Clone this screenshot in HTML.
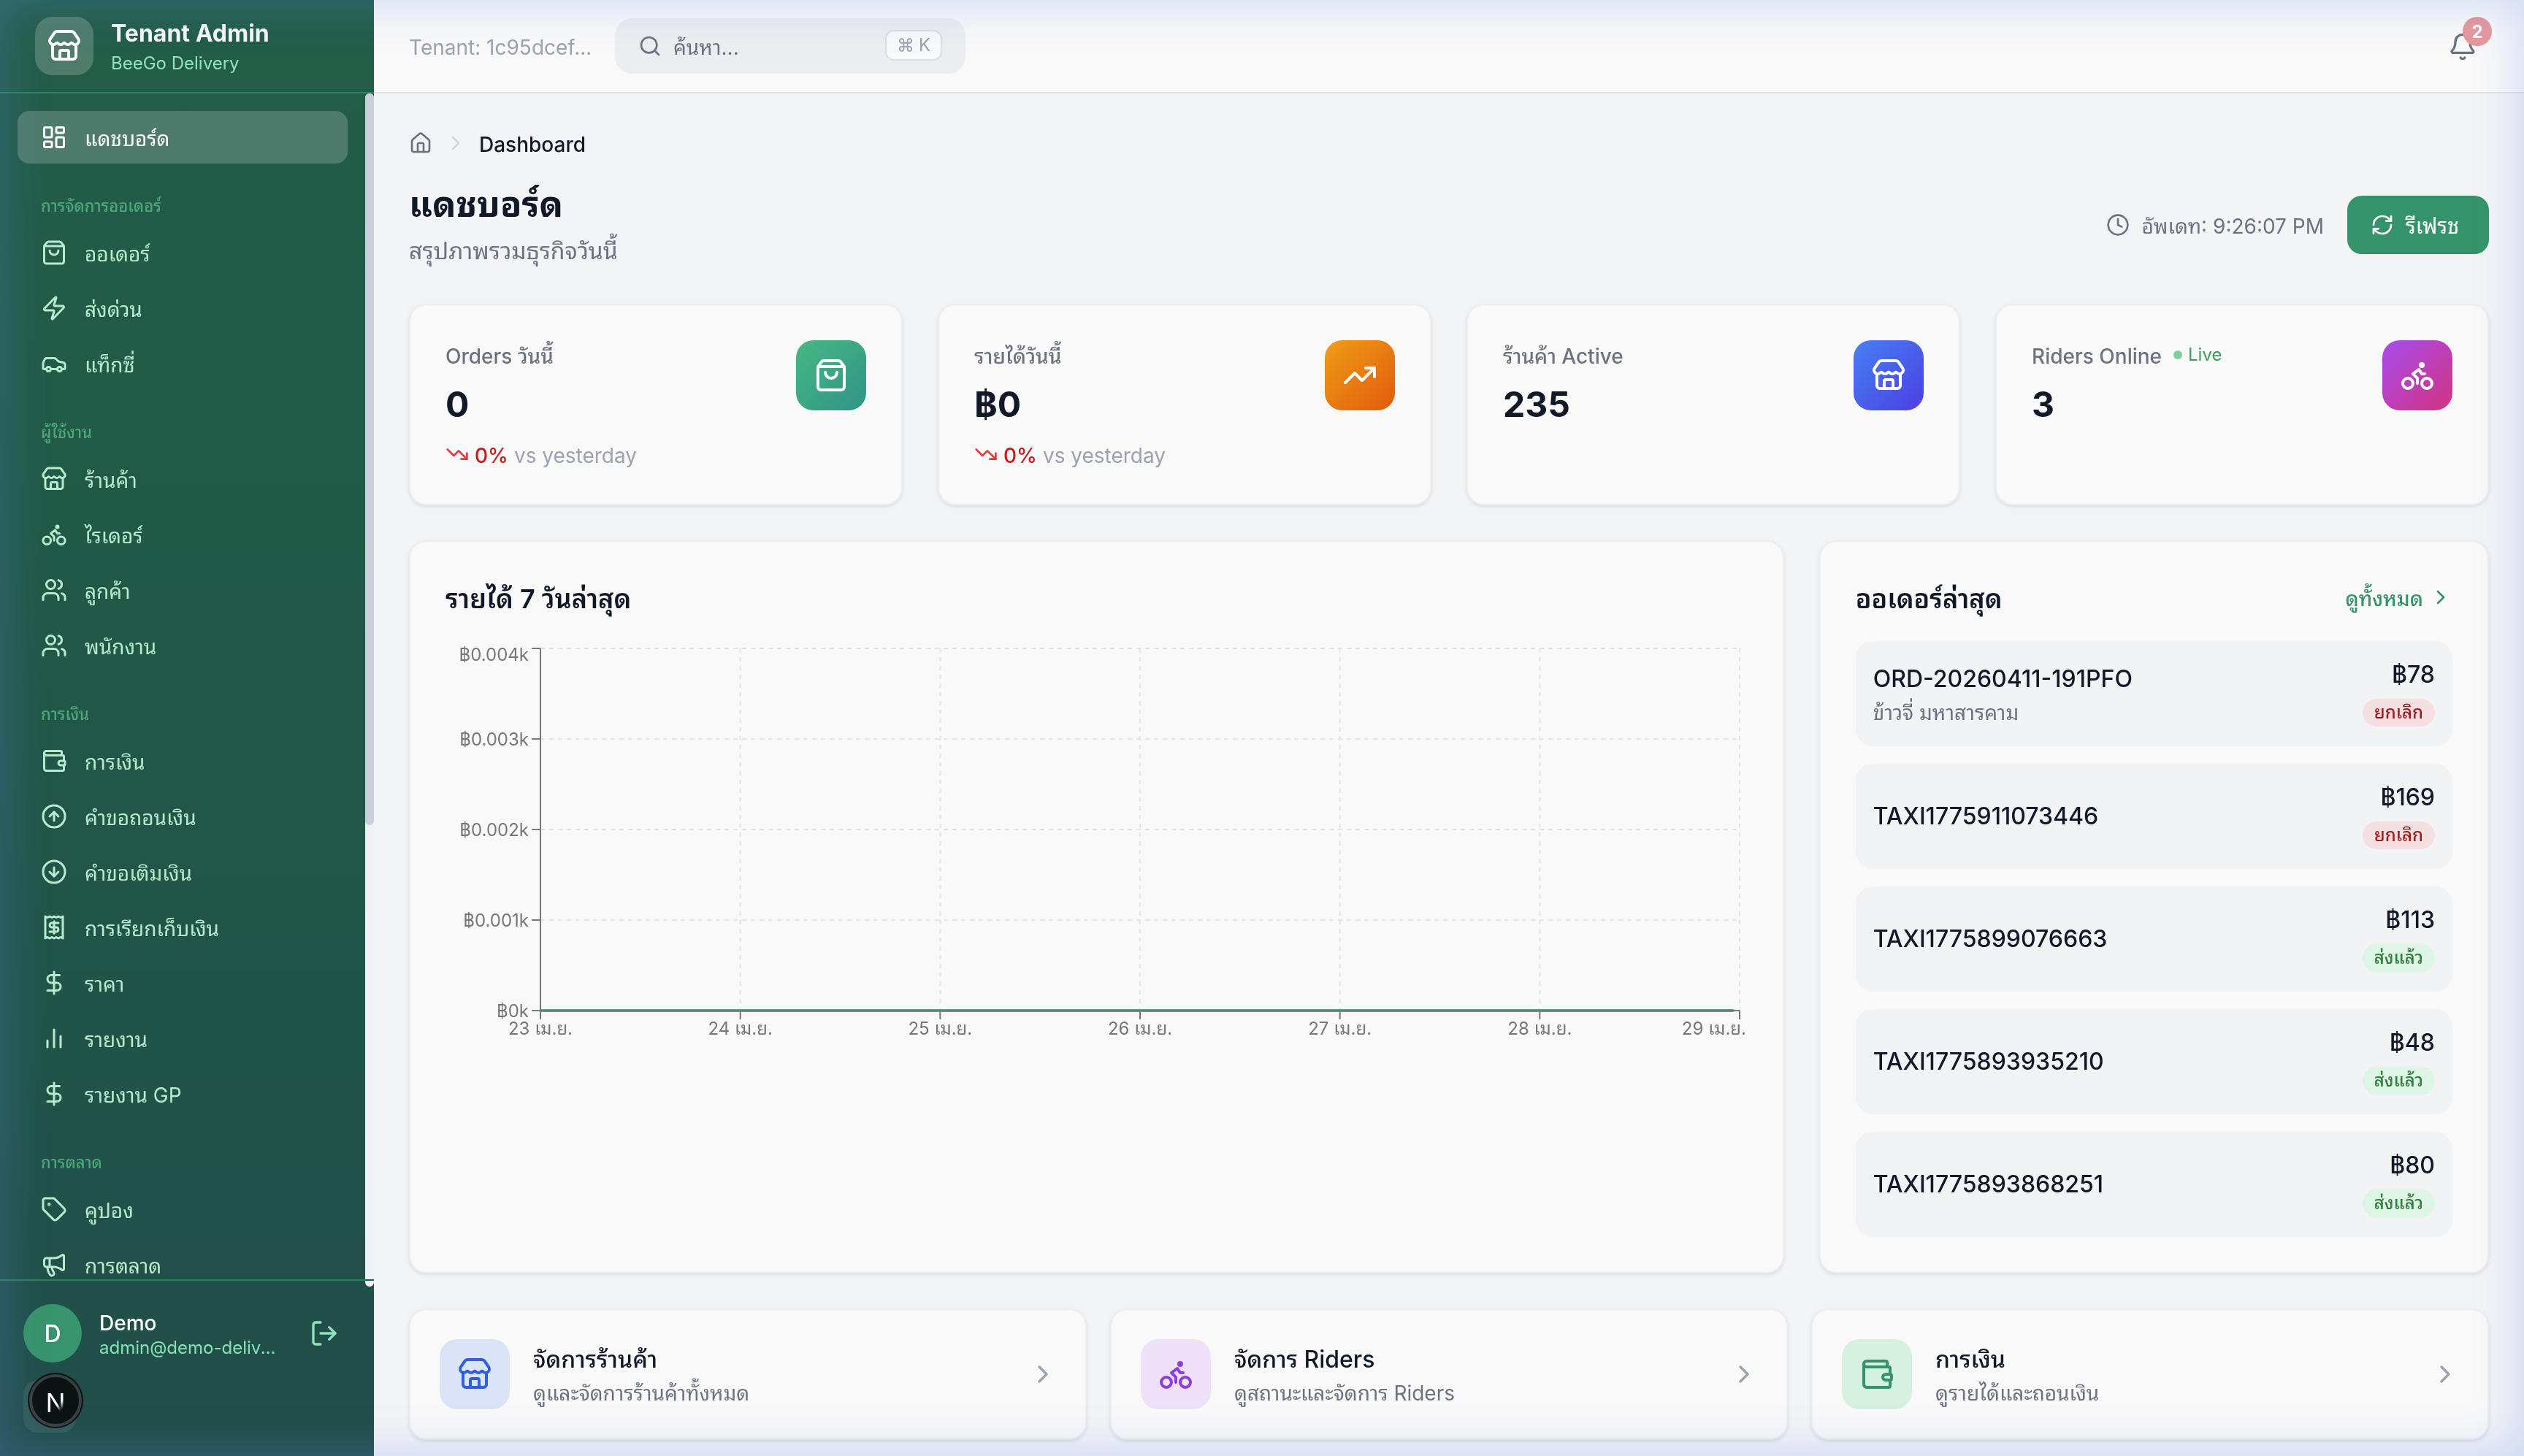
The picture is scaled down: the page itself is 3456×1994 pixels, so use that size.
<!DOCTYPE html>
<html lang="th">
<head>
<meta charset="utf-8">
<title>Tenant Admin - Dashboard</title>
<style>
*{box-sizing:border-box;margin:0;padding:0}
html,body{width:1728px;height:997px;overflow:hidden}
@media (min-width:2400px){html{zoom:2}}
body{font-family:"Inter","Liberation Sans","Noto Sans Thai Looped","Noto Sans Thai",sans-serif;background:#f3f4f6;color:#111827;position:relative;-webkit-font-smoothing:antialiased}
svg.i{display:block;fill:none;stroke:currentColor;stroke-width:2;stroke-linecap:round;stroke-linejoin:round;flex:none}

/* sidebar */
.sb{will-change:transform;position:absolute;left:0;top:0;width:256px;height:997px;background:linear-gradient(180deg,#235d48 0%,#215a47 30%,#215449 70%,#214e49 100%);color:#d9f9e6;overflow:hidden}
.sb-head{height:64px;border-bottom:1px solid #2f805b;display:flex;align-items:flex-start;padding:11.5px 24px 0;gap:12px}
.logo{width:40px;height:40px;border-radius:12px;background:rgba(255,255,255,.2);display:flex;align-items:center;justify-content:center;color:#fff}
.brand1{position:relative;top:-0.5px;font-size:16px;line-height:24px;font-weight:700;color:#f5f6f7}
.brand2{font-size:12px;line-height:16px;color:#8ee4ba}
.sb-nav{position:absolute;left:0;top:64px;width:256px;height:817px;overflow:hidden}
.sb-scroll{position:absolute;right:0;top:0;width:6px;height:817px;background:#eef1f5;border-radius:3px}
.sb-thumb{position:absolute;right:0;top:0;width:6px;height:501px;background:#c9d0dc;border-radius:3px}
.nav{padding:12px 18px 0 12px;height:812px;overflow:hidden}
.it{height:36px;display:flex;align-items:center;gap:12px;padding:0 16px;border-radius:8px;font-size:14px;line-height:20px;color:#b9eacd;margin-bottom:2px}
.it .t{position:relative;top:1px}
.it.act{background:rgba(255,255,255,.2);color:#fff}
.sec{font-size:11px;line-height:16px;font-weight:500;color:#55b685;opacity:.85;padding:0 16px;letter-spacing:0;height:16px}
.sb-foot{position:absolute;left:0;top:876px;width:256px;height:121px;border-top:1px solid #2f805b;padding:16px}
.user{display:flex;align-items:center;gap:12px;height:40px}
.av{width:40px;height:40px;border-radius:50%;background:#38946a;color:#fff;display:flex;align-items:center;justify-content:center;font-weight:500;font-size:16px}
.uname{position:relative;top:1px;font-size:14px;line-height:20px;font-weight:500;color:#fff}
.umail{font-size:12px;line-height:16px;color:#86e0b4;width:122px;white-space:nowrap;overflow:hidden;text-overflow:ellipsis}
.ghost{position:absolute;left:16px;top:68px;width:36px;height:36px;border-radius:10px;background:rgba(255,255,255,.08)}
.nx{position:absolute;left:20px;top:941px;width:36px;height:36px;border-radius:50%;background:#0b1212;border:2px solid #3c3f3f;display:flex;align-items:center;justify-content:center;box-shadow:0 0 0 1px #0b0f0f}
.nx span{font-size:18px;font-weight:400;line-height:18px;background:linear-gradient(140deg,#fff 0%,#fff 58%,rgba(255,255,255,0) 78%);-webkit-background-clip:text;background-clip:text;color:transparent;position:relative;top:1.5px}

/* main */
.main{will-change:transform;position:absolute;left:256px;top:0;width:1472px;height:997px}
.top{height:64px;border-bottom:1px solid #e3e5e8;background:#f9f9f9;display:flex;align-items:center;padding:0 24px}
.tenant{position:relative;top:1px;font-size:14px;line-height:20px;color:#9ca3af;width:141px}
.search{margin-top:-0.5px;line-height:20px;width:240px;height:38px;border-radius:12px;background:#ecedf0;display:flex;align-items:center;padding:0 16px;position:relative}
.search .ph{position:relative;top:1px;font-size:14px;color:#6b7280;margin-left:8px}
.kbd{position:absolute;right:16px;top:8px;width:39px;height:21px;border:1px solid #dcdee3;border-radius:6px;background:#f8f9fa;font-size:12px;color:#9ca3af;display:flex;align-items:center;justify-content:center;gap:3px}
.bell{position:absolute;right:32px;top:22px;color:#6b7280}
.badge{position:absolute;left:1430px;top:11.5px;width:20px;height:20px;border-radius:50%;background:#e6989a;color:#fff;font-size:12px;font-weight:700;display:flex;align-items:center;justify-content:center}

.content{padding:24px}
.crumb{display:flex;align-items:center;gap:8px;height:20px;font-size:14px;line-height:20px}
.crumb .home{color:#6b7280}
.crumb .chev{color:#d1d5db}
.crumb .cur{position:relative;top:1px;color:#111827;font-weight:500}
.hdr{margin-top:16px;height:60px;display:flex;align-items:center;justify-content:space-between}
.h1{font-size:24px;line-height:32px;font-weight:700;color:#111827}
.sub{font-size:16px;line-height:24px;color:#6b7280;margin-top:4px}
.hr{display:flex;align-items:center;gap:16px}
.upd{display:flex;align-items:center;gap:8px;font-size:14px;line-height:20px;color:#6b7280}
.btn{height:40px;width:97px;line-height:20px;display:flex;align-items:center;gap:8px;padding:0 16px;border-radius:10px;background:#35936a;color:#fff;font-size:14px;font-weight:500}

.card{background:#f9f9f9;border:1px solid #eceef1;border-radius:12px;box-shadow:0 1px 3px rgba(0,0,0,.08),0 1px 2px rgba(0,0,0,.04)}
.stats{margin-top:24px;display:grid;grid-template-columns:repeat(4,1fr);gap:24px}
.stat{height:138px;padding:24px;display:flex;justify-content:space-between;align-items:flex-start}
.slabel{position:relative;top:1px;font-size:14px;line-height:20px;font-weight:500;color:#6b7280;display:flex;align-items:center}
.sval{font-size:24px;line-height:32px;font-weight:700;color:#111827;margin-top:8px}
.trend{margin-top:8px;display:flex;align-items:center;gap:4px;font-size:14px;line-height:20px}
.trend span{position:relative;top:1px}
.trend .pc{color:#c81a1a;font-weight:500}
.trend .vs{color:#9ca3af}
.sicon{width:48px;height:48px;border-radius:12px;display:flex;align-items:center;justify-content:center;color:#fff}
.live{display:inline-flex;align-items:center;gap:4px;margin-left:8px;font-size:12px;color:#3ba056;font-weight:400;position:relative;top:-1px}
.live i{width:6px;height:6px;border-radius:50%;background:#7fd09a;display:block}

.row2{margin-top:24px;display:grid;grid-template-columns:941.33px 458.67px;gap:24px;height:502px}
.chart{padding:24px;position:relative}
.ctitle{position:relative;top:1px;font-size:18px;line-height:28px;font-weight:600;color:#111827}
.orders{padding:24px}
.ord:last-child{margin-bottom:0}
.ohead{display:flex;justify-content:space-between;align-items:center;height:28px;margin-bottom:16px}
.all{display:flex;align-items:center;gap:4px;font-size:14px;line-height:20px;color:#35936a;font-weight:500}
.ord{height:72px;border-radius:12px;background:#f2f3f5;padding:12px;display:flex;justify-content:space-between;align-items:center;margin-bottom:12px}
.oid{font-size:16px;line-height:24px;font-weight:500;color:#111827}
.oshop{position:relative;top:1px;font-size:14px;line-height:20px;color:#6b7280}
.oright{text-align:right;display:flex;flex-direction:column;align-items:flex-end}
.oprice{position:relative;top:-1.5px;font-size:16px;line-height:24px;font-weight:500;color:#111827}
.st{position:relative;top:-1px;margin-top:4px;height:19px;padding:0 8px;border-radius:999px;font-size:12px;line-height:19px;font-weight:500}
.st.cx{background:#f5dfe0;color:#9b1c1c}
.st.ok{background:#ddf5e3;color:#2f7d3f}

.links{margin-top:24px;display:grid;grid-template-columns:repeat(3,1fr);gap:16px}
.lk{height:90px;padding:19px 19px 19px 20px;display:flex;align-items:center;gap:16px}
.lic{width:48px;height:48px;border-radius:12px;display:flex;align-items:center;justify-content:center;flex:none}
.lt{font-size:16px;line-height:24px;font-weight:500;color:#111827}
.ls{position:relative;top:1px;font-size:14px;line-height:20px;color:#6b7280}
.lk .chev{margin-left:auto;color:#9ca3af}

.glow{position:absolute;left:0;top:0;width:1728px;height:997px;pointer-events:none;box-shadow:inset 0 0 30px 4px rgba(105,140,235,.27)}
</style>
</head>
<body>

<!-- SIDEBAR -->
<div class="sb">
  <div class="sb-head">
    <div class="logo"><svg class="i" width="24" height="24" viewBox="0 0 24 24"><path d="M15 21v-5a1 1 0 0 0-1-1h-4a1 1 0 0 0-1 1v5"/><path d="M17.774 10.31a1.12 1.12 0 0 0-1.549 0 2.5 2.5 0 0 1-3.451 0 1.12 1.12 0 0 0-1.548 0 2.5 2.5 0 0 1-3.452 0 1.12 1.12 0 0 0-1.549 0 2.5 2.5 0 0 1-3.77-3.248l2.889-4.184A2 2 0 0 1 7 2h10a2 2 0 0 1 1.653.873l2.895 4.192a2.5 2.5 0 0 1-3.774 3.244"/><path d="M4 10.95V19a2 2 0 0 0 2 2h12a2 2 0 0 0 2-2v-8.05"/></svg></div>
    <div><div class="brand1">Tenant Admin</div><div class="brand2">BeeGo Delivery</div></div>
  </div>
  <div class="sb-nav">
    <div class="nav">
      <div class="it act"><svg class="i" width="18" height="18" viewBox="0 0 24 24"><rect width="7" height="9" x="3" y="3" rx="1"/><rect width="7" height="5" x="14" y="3" rx="1"/><rect width="7" height="9" x="14" y="12" rx="1"/><rect width="7" height="5" x="3" y="16" rx="1"/></svg><span class="t">แดชบอร์ด</span></div>
      <div class="sec" style="margin-top:21px;margin-bottom:6px">การจัดการออเดอร์</div>
      <div class="it"><svg class="i" width="18" height="18" viewBox="0 0 24 24"><path d="M16 10a4 4 0 0 1-8 0"/><path d="M3.103 6.034h17.794"/><path d="M3.4 5.467a2 2 0 0 0-.4 1.2V20a2 2 0 0 0 2 2h14a2 2 0 0 0 2-2V6.667a2 2 0 0 0-.4-1.2l-2-2.667A2 2 0 0 0 17 2H7a2 2 0 0 0-1.6.8z"/></svg><span class="t">ออเดอร์</span></div>
      <div class="it"><svg class="i" width="18" height="18" viewBox="0 0 24 24"><path d="M4 14a1 1 0 0 1-.78-1.63l9.9-10.2a.5.5 0 0 1 .86.46l-1.92 6.02A1 1 0 0 0 13 10h7a1 1 0 0 1 .78 1.63l-9.9 10.2a.5.5 0 0 1-.86-.46l1.92-6.02A1 1 0 0 0 11 14z"/></svg><span class="t">ส่งด่วน</span></div>
      <div class="it"><svg class="i" width="18" height="18" viewBox="0 0 24 24"><path d="M19 17h2c.6 0 1-.4 1-1v-3c0-.9-.7-1.7-1.5-1.9C18.700 10.6 16 10 16 10s-1.3-1.4-2.2-2.3c-.5-.4-1.1-.7-1.8-.7H5c-.6 0-1.1.4-1.4.9l-1.4 2.9A3.7 3.7 0 0 0 2 12v4c0 .6.4 1 1 1h2"/><circle cx="7" cy="17" r="2"/><path d="M9 17h6"/><circle cx="17" cy="17" r="2"/></svg><span class="t">แท็กซี่</span></div>
      <div class="sec" style="margin-top:21px;margin-bottom:6px">ผู้ใช้งาน</div>
      <div class="it"><svg class="i" width="18" height="18" viewBox="0 0 24 24"><path d="M15 21v-5a1 1 0 0 0-1-1h-4a1 1 0 0 0-1 1v5"/><path d="M17.774 10.31a1.12 1.12 0 0 0-1.549 0 2.5 2.5 0 0 1-3.451 0 1.12 1.12 0 0 0-1.548 0 2.5 2.5 0 0 1-3.452 0 1.12 1.12 0 0 0-1.549 0 2.5 2.5 0 0 1-3.77-3.248l2.889-4.184A2 2 0 0 1 7 2h10a2 2 0 0 1 1.653.873l2.895 4.192a2.5 2.5 0 0 1-3.774 3.244"/><path d="M4 10.95V19a2 2 0 0 0 2 2h12a2 2 0 0 0 2-2v-8.050"/></svg><span class="t">ร้านค้า</span></div>
      <div class="it"><svg class="i" width="18" height="18" viewBox="0 0 24 24"><circle cx="18.5" cy="17.5" r="3.5"/><circle cx="5.5" cy="17.5" r="3.5"/><circle cx="15" cy="5" r="1"/><path d="M12 17.5V14l-3-3 4-3 2 3h2"/></svg><span class="t">ไรเดอร์</span></div>
      <div class="it"><svg class="i" width="18" height="18" viewBox="0 0 24 24"><path d="M16 21v-2a4 4 0 0 0-4-4H6a4 4 0 0 0-4 4v2"/><circle cx="9" cy="7" r="4"/><path d="M22 21v-2a4 4 0 0 0-3-3.870"/><path d="M16 3.13a4 4 0 0 1 0 7.75"/></svg><span class="t">ลูกค้า</span></div>
      <div class="it"><svg class="i" width="18" height="18" viewBox="0 0 24 24"><path d="M16 21v-2a4 4 0 0 0-4-4H6a4 4 0 0 0-4 4v2"/><circle cx="9" cy="7" r="4"/><path d="M22 21v-2a4 4 0 0 0-3-3.870"/><path d="M16 3.13a4 4 0 0 1 0 7.75"/></svg><span class="t">พนักงาน</span></div>
      <div class="sec" style="margin-top:21px;margin-bottom:6px">การเงิน</div>
      <div class="it"><svg class="i" width="18" height="18" viewBox="0 0 24 24"><path d="M19 7V4a1 1 0 0 0-1-1H5a2 2 0 0 0 0 4h15a1 1 0 0 1 1 1v4h-3a2 2 0 0 0 0 4h3a1 1 0 0 0 1-1v-2a1 1 0 0 0-1-1"/><path d="M3 5v14a2 2 0 0 0 2 2h15a1 1 0 0 0 1-1v-4"/></svg><span class="t">การเงิน</span></div>
      <div class="it"><svg class="i" width="18" height="18" viewBox="0 0 24 24"><circle cx="12" cy="12" r="10"/><path d="m16 12-4-4-4 4"/><path d="M12 16V8"/></svg><span class="t">คำขอถอนเงิน</span></div>
      <div class="it"><svg class="i" width="18" height="18" viewBox="0 0 24 24"><circle cx="12" cy="12" r="10"/><path d="M12 8v8"/><path d="m8 12 4 4 4-4"/></svg><span class="t">คำขอเติมเงิน</span></div>
      <div class="it"><svg class="i" width="18" height="18" viewBox="0 0 24 24"><path d="M4 2v20l2-1 2 1 2-1 2 1 2-1 2 1 2-1 2 1V2l-2 1-2-1-2 1-2-1-2 1-2-1-2 1Z"/><path d="M16 8h-6a2 2 0 1 0 0 4h4a2 2 0 1 1 0 4H8"/><path d="M12 17.5v-11"/></svg><span class="t">การเรียกเก็บเงิน</span></div>
      <div class="it"><svg class="i" width="18" height="18" viewBox="0 0 24 24"><line x1="12" x2="12" y1="2" y2="22"/><path d="M17 5H9.5a3.5 3.5 0 0 0 0 7h5a3.5 3.5 0 0 1 0 7H6"/></svg><span class="t">ราคา</span></div>
      <div class="it"><svg class="i" width="18" height="18" viewBox="0 0 24 24"><line x1="18" x2="18" y1="20" y2="10"/><line x1="12" x2="12" y1="20" y2="4"/><line x1="6" x2="6" y1="20" y2="14"/></svg><span class="t">รายงาน</span></div>
      <div class="it"><svg class="i" width="18" height="18" viewBox="0 0 24 24"><line x1="12" x2="12" y1="2" y2="22"/><path d="M17 5H9.5a3.5 3.5 0 0 0 0 7h5a3.5 3.5 0 0 1 0 7H6"/></svg><span class="t">รายงาน GP</span></div>
      <div class="sec" style="margin-top:21px;margin-bottom:6px">การตลาด</div>
      <div class="it"><svg class="i" width="18" height="18" viewBox="0 0 24 24"><path d="M12.586 2.586A2 2 0 0 0 11.172 2H4a2 2 0 0 0-2 2v7.172a2 2 0 0 0 .586 1.414l8.704 8.704a2.426 2.426 0 0 0 3.42 0l6.58-6.58a2.426 2.426 0 0 0 0-3.42z"/><circle cx="7.5" cy="7.5" r=".5" fill="currentColor"/></svg><span class="t">คูปอง</span></div>
      <div class="it"><svg class="i" width="18" height="18" viewBox="0 0 24 24"><path d="M11 6a13 13 0 0 0 8.4-2.8A1 1 0 0 1 21 4v12a1 1 0 0 1-1.6.8A13 13 0 0 0 11 14H5a2 2 0 0 1-2-2V8a2 2 0 0 1 2-2z"/><path d="M6 14a12 12 0 0 0 2.4 7.2 2 2 0 0 0 3.2-2.4A8 8 0 0 1 10 14"/><path d="M8 6v8"/></svg><span class="t">การตลาด</span></div>
    </div>
    <div class="sb-scroll"><div class="sb-thumb"></div></div>
  </div>
  <div class="sb-foot">
    <div class="user">
      <div class="av">D</div>
      <div><div class="uname">Demo</div><div class="umail">admin@demo-delivery.com</div></div>
      <svg class="i" style="margin-left:auto;margin-right:8px;color:#8ee4ba" width="20" height="20" viewBox="0 0 24 24"><path d="m16 17 5-5-5-5"/><path d="M21 12H9"/><path d="M9 21H5a2 2 0 0 1-2-2V5a2 2 0 0 1 2-2h4"/></svg>
    </div>
    <div class="ghost"></div>
  </div>
</div>
<div style="position:absolute;left:250px;top:876px;width:6px;height:1px;background:#0e6339"></div>
<div class="nx"><span>N</span></div>

<!-- MAIN -->
<div class="main">
  <div class="top">
    <div class="tenant">Tenant: 1c95dcef...</div>
    <div class="search">
      <svg class="i" style="color:#6b7280" width="16" height="16" viewBox="0 0 24 24"><circle cx="11" cy="11" r="8"/><path d="m21 21-4.3-4.3"/></svg>
      <span class="ph">ค้นหา...</span>
      <div class="kbd"><span>⌘</span><span>K</span></div>
    </div>
    <svg class="i bell" width="20" height="20" viewBox="0 0 24 24"><path d="M10.268 21a2 2 0 0 0 3.464 0"/><path d="M3.262 15.326A1 1 0 0 0 4 17h16a1 1 0 0 0 .74-1.673C19.41 13.956 18 12.499 18 8A6 6 0 0 0 6 8c0 4.499-1.411 5.956-2.738 7.326"/></svg>
    <div class="badge">2</div>
  </div>

  <div class="content">
    <div class="crumb">
      <svg class="i home" width="16" height="16" viewBox="0 0 24 24"><path d="M15 21v-8a1 1 0 0 0-1-1h-4a1 1 0 0 0-1 1v8"/><path d="M3 10a2 2 0 0 1 .709-1.528l7-5.999a2 2 0 0 1 2.582 0l7 5.999A2 2 0 0 1 21 10v9a2 2 0 0 1-2 2H5a2 2 0 0 1-2-2z"/></svg>
      <svg class="i chev" width="16" height="16" viewBox="0 0 24 24"><path d="m9 18 6-6-6-6"/></svg>
      <span class="cur">Dashboard</span>
    </div>
    <div class="hdr">
      <div><div class="h1">แดชบอร์ด</div><div class="sub">สรุปภาพรวมธุรกิจวันนี้</div></div>
      <div class="hr">
        <div class="upd"><svg class="i" width="16" height="16" viewBox="0 0 24 24"><circle cx="12" cy="12" r="10"/><path d="M12 6v6l4 2"/></svg><span style="position:relative;top:1px">อัพเดท: 9:26:07 PM</span></div>
        <div class="btn"><svg class="i" width="16" height="16" viewBox="0 0 24 24"><path d="M3 12a9 9 0 0 1 9-9 9.75 9.75 0 0 1 6.74 2.74L21 8"/><path d="M21 3v5h-5"/><path d="M21 12a9 9 0 0 1-9 9 9.75 9.75 0 0 1-6.74-2.74L3 16"/><path d="M8 16H3v5"/></svg><span style="position:relative;top:1px;font-weight:400;font-size:14.5px">รีเฟรช</span></div>
      </div>
    </div>

    <div class="stats">
      <div class="card stat">
        <div><div class="slabel">Orders วันนี้</div><div class="sval">0</div>
          <div class="trend"><svg class="i" style="color:#e3393c" width="16" height="16" viewBox="0 0 24 24"><path d="M16 17h6v-6"/><path d="m22 17-8.5-8.5-5 5L2 7"/></svg><span class="pc">0%</span><span class="vs">vs yesterday</span></div></div>
        <div class="sicon" style="background:linear-gradient(135deg,#48b783,#2f9488)"><svg class="i" width="24" height="24" viewBox="0 0 24 24"><path d="M16 10a4 4 0 0 1-8 0"/><path d="M3.103 6.034h17.794"/><path d="M3.4 5.467a2 2 0 0 0-.4 1.2V20a2 2 0 0 0 2 2h14a2 2 0 0 0 2-2V6.667a2 2 0 0 0-.4-1.2l-2-2.667A2 2 0 0 0 17 2H7a2 2 0 0 0-1.6.8z"/></svg></div>
      </div>
      <div class="card stat">
        <div><div class="slabel">รายได้วันนี้</div><div class="sval">฿0</div>
          <div class="trend"><svg class="i" style="color:#e3393c" width="16" height="16" viewBox="0 0 24 24"><path d="M16 17h6v-6"/><path d="m22 17-8.5-8.5-5 5L2 7"/></svg><span class="pc">0%</span><span class="vs">vs yesterday</span></div></div>
        <div class="sicon" style="background:linear-gradient(135deg,#ee9e14,#e25a0e)"><svg class="i" width="24" height="24" viewBox="0 0 24 24"><path d="M16 7h6v6"/><path d="m22 7-8.5 8.5-5-5L2 17"/></svg></div>
      </div>
      <div class="card stat">
        <div><div class="slabel">ร้านค้า Active</div><div class="sval">235</div></div>
        <div class="sicon" style="background:linear-gradient(135deg,#4680f2,#4c3fe3)"><svg class="i" width="24" height="24" viewBox="0 0 24 24"><path d="M15 21v-5a1 1 0 0 0-1-1h-4a1 1 0 0 0-1 1v5"/><path d="M17.774 10.31a1.12 1.12 0 0 0-1.549 0 2.5 2.5 0 0 1-3.451 0 1.12 1.12 0 0 0-1.548 0 2.5 2.5 0 0 1-3.452 0 1.12 1.12 0 0 0-1.549 0 2.5 2.5 0 0 1-3.77-3.248l2.889-4.184A2 2 0 0 1 7 2h10a2 2 0 0 1 1.653.873l2.895 4.192a2.5 2.5 0 0 1-3.774 3.244"/><path d="M4 10.95V19a2 2 0 0 0 2 2h12a2 2 0 0 0 2-2v-8.05"/></svg></div>
      </div>
      <div class="card stat">
        <div><div class="slabel">Riders Online<span class="live"><i></i>Live</span></div><div class="sval">3</div></div>
        <div class="sicon" style="background:linear-gradient(135deg,#a64ced,#d3337f)"><svg class="i" width="24" height="24" viewBox="0 0 24 24"><circle cx="18.5" cy="17.5" r="3.5"/><circle cx="5.5" cy="17.5" r="3.5"/><circle cx="15" cy="5" r="1"/><path d="M12 17.5V14l-3-3 4-3 2 3h2"/></svg></div>
      </div>
    </div>

    <div class="row2">
      <div class="card chart">
        <div class="ctitle">รายได้ 7 วันล่าสุด</div>
        <svg style="position:absolute;left:-1px;top:-1px" width="941" height="502" font-family="Inter, 'Liberation Sans', 'Noto Sans Thai Looped', sans-serif"><line x1="90" y1="74" x2="911" y2="74" stroke="#e4e5e7" stroke-dasharray="3 3" fill="none"/><line x1="90" y1="136" x2="911" y2="136" stroke="#e4e5e7" stroke-dasharray="3 3" fill="none"/><line x1="90" y1="198" x2="911" y2="198" stroke="#e4e5e7" stroke-dasharray="3 3" fill="none"/><line x1="90" y1="260" x2="911" y2="260" stroke="#e4e5e7" stroke-dasharray="3 3" fill="none"/><line x1="226.83" y1="74" x2="226.83" y2="322" stroke="#e4e5e7" stroke-dasharray="3 3" fill="none"/><line x1="363.67" y1="74" x2="363.67" y2="322" stroke="#e4e5e7" stroke-dasharray="3 3" fill="none"/><line x1="500.50" y1="74" x2="500.50" y2="322" stroke="#e4e5e7" stroke-dasharray="3 3" fill="none"/><line x1="637.33" y1="74" x2="637.33" y2="322" stroke="#e4e5e7" stroke-dasharray="3 3" fill="none"/><line x1="774.17" y1="74" x2="774.17" y2="322" stroke="#e4e5e7" stroke-dasharray="3 3" fill="none"/><line x1="911.00" y1="74" x2="911.00" y2="322" stroke="#e4e5e7" stroke-dasharray="3 3" fill="none"/><line x1="90" y1="322" x2="907" y2="322" stroke="#4fb07f" stroke-width="2"/><line x1="90" y1="74" x2="90" y2="322" stroke="#777" stroke-width="1"/><line x1="90" y1="322" x2="911" y2="322" stroke="#777" stroke-width="1"/><line x1="84" y1="74" x2="90" y2="74" stroke="#777"/><line x1="84" y1="136" x2="90" y2="136" stroke="#777"/><line x1="84" y1="198" x2="90" y2="198" stroke="#777"/><line x1="84" y1="260" x2="90" y2="260" stroke="#777"/><line x1="84" y1="322" x2="90" y2="322" stroke="#777"/><line x1="90.00" y1="322" x2="90.00" y2="328" stroke="#777"/><line x1="226.83" y1="322" x2="226.83" y2="328" stroke="#777"/><line x1="363.67" y1="322" x2="363.67" y2="328" stroke="#777"/><line x1="500.50" y1="322" x2="500.50" y2="328" stroke="#777"/><line x1="637.33" y1="322" x2="637.33" y2="328" stroke="#777"/><line x1="774.17" y1="322" x2="774.17" y2="328" stroke="#777"/><line x1="911.00" y1="322" x2="911.00" y2="328" stroke="#777"/><text x="82" y="82.4" text-anchor="end" font-size="12" fill="#777">฿0.004k</text><text x="82" y="140.3" text-anchor="end" font-size="12" fill="#777">฿0.003k</text><text x="82" y="202.3" text-anchor="end" font-size="12" fill="#777">฿0.002k</text><text x="82" y="264.3" text-anchor="end" font-size="12" fill="#777">฿0.001k</text><text x="82" y="326.5" text-anchor="end" font-size="12" fill="#777">฿0k</text><text x="90.00" y="338.5" text-anchor="middle" font-size="12" fill="#777">23 เม.ย.</text><text x="226.83" y="338.5" text-anchor="middle" font-size="12" fill="#777">24 เม.ย.</text><text x="363.67" y="338.5" text-anchor="middle" font-size="12" fill="#777">25 เม.ย.</text><text x="500.50" y="338.5" text-anchor="middle" font-size="12" fill="#777">26 เม.ย.</text><text x="637.33" y="338.5" text-anchor="middle" font-size="12" fill="#777">27 เม.ย.</text><text x="774.17" y="338.5" text-anchor="middle" font-size="12" fill="#777">28 เม.ย.</text><text x="915.5" y="338.5" text-anchor="end" font-size="12" fill="#777">29 เม.ย.</text></svg>
      </div>
      <div class="card orders">
        <div class="ohead"><div class="ctitle">ออเดอร์ล่าสุด</div><div class="all"><span style="position:relative;top:1px">ดูทั้งหมด</span><svg class="i" width="16" height="16" viewBox="0 0 24 24"><path d="m9 18 6-6-6-6"/></svg></div></div>
        <div class="ord"><div><div class="oid">ORD-20260411-191PFO</div><div class="oshop">ข้าวจี่ มหาสารคาม</div></div><div class="oright"><div class="oprice">฿78</div><div class="st cx">ยกเลิก</div></div></div>
        <div class="ord"><div><div class="oid">TAXI1775911073446</div></div><div class="oright"><div class="oprice">฿169</div><div class="st cx">ยกเลิก</div></div></div>
        <div class="ord"><div><div class="oid">TAXI1775899076663</div></div><div class="oright"><div class="oprice">฿113</div><div class="st ok">ส่งแล้ว</div></div></div>
        <div class="ord"><div><div class="oid">TAXI1775893935210</div></div><div class="oright"><div class="oprice">฿48</div><div class="st ok">ส่งแล้ว</div></div></div>
        <div class="ord"><div><div class="oid">TAXI1775893868251</div></div><div class="oright"><div class="oprice">฿80</div><div class="st ok">ส่งแล้ว</div></div></div>
      </div>
    </div>

    <div class="links">
      <div class="card lk">
        <div class="lic" style="background:#dae4f6;color:#2f5fe0"><svg class="i" width="24" height="24" viewBox="0 0 24 24"><path d="M15 21v-5a1 1 0 0 0-1-1h-4a1 1 0 0 0-1 1v5"/><path d="M17.774 10.31a1.12 1.12 0 0 0-1.549 0 2.5 2.5 0 0 1-3.451 0 1.12 1.12 0 0 0-1.548 0 2.5 2.5 0 0 1-3.452 0 1.12 1.12 0 0 0-1.549 0 2.5 2.5 0 0 1-3.77-3.248l2.889-4.184A2 2 0 0 1 7 2h10a2 2 0 0 1 1.653.873l2.895 4.192a2.5 2.5 0 0 1-3.774 3.244"/><path d="M4 10.95V19a2 2 0 0 0 2 2h12a2 2 0 0 0 2-2v-8.05"/></svg></div>
        <div><div class="lt">จัดการร้านค้า</div><div class="ls">ดูและจัดการร้านค้าทั้งหมด</div></div>
        <svg class="i chev" width="20" height="20" viewBox="0 0 24 24"><path d="m9 18 6-6-6-6"/></svg>
      </div>
      <div class="card lk">
        <div class="lic" style="background:#ede2f8;color:#8e3ce0"><svg class="i" width="24" height="24" viewBox="0 0 24 24"><circle cx="18.5" cy="17.5" r="3.5"/><circle cx="5.5" cy="17.5" r="3.5"/><circle cx="15" cy="5" r="1"/><path d="M12 17.5V14l-3-3 4-3 2 3h2"/></svg></div>
        <div><div class="lt">จัดการ Riders</div><div class="ls">ดูสถานะและจัดการ Riders</div></div>
        <svg class="i chev" width="20" height="20" viewBox="0 0 24 24"><path d="m9 18 6-6-6-6"/></svg>
      </div>
      <div class="card lk">
        <div class="lic" style="background:#d6f1e0;color:#35936a"><svg class="i" width="24" height="24" viewBox="0 0 24 24"><path d="M19 7V4a1 1 0 0 0-1-1H5a2 2 0 0 0 0 4h15a1 1 0 0 1 1 1v4h-3a2 2 0 0 0 0 4h3a1 1 0 0 0 1-1v-2a1 1 0 0 0-1-1"/><path d="M3 5v14a2 2 0 0 0 2 2h15a1 1 0 0 0 1-1v-4"/></svg></div>
        <div><div class="lt">การเงิน</div><div class="ls">ดูรายได้และถอนเงิน</div></div>
        <svg class="i chev" width="20" height="20" viewBox="0 0 24 24"><path d="m9 18 6-6-6-6"/></svg>
      </div>
    </div>
  </div>
</div>

<div class="glow"></div>
</body>
</html>
